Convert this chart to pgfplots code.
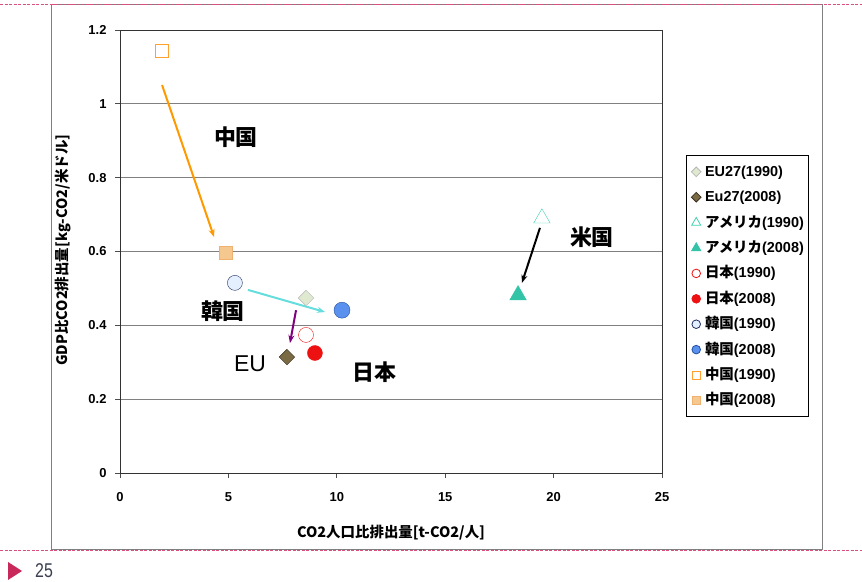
\documentclass[border=0pt]{standalone}
\usepackage{fontspec}
\setmainfont{Liberation Sans}
\newfontfamily\cjk{Noto Sans CJK JP}
\usepackage{pgfplots}
\pgfplotsset{compat=1.18}
\usetikzlibrary{arrows.meta}
\definecolor{dashpink}{HTML}{D85080}
\definecolor{frame}{HTML}{808080}
\definecolor{pagenum}{HTML}{3A4050}
\definecolor{tri}{HTML}{C8285A}
\definecolor{euA}{HTML}{DFE9D0}
\definecolor{euAd}{HTML}{B8B8B8}
\definecolor{euB}{HTML}{7B6B45}
\definecolor{euBd}{HTML}{3A3020}
\definecolor{usA}{HTML}{40D0B0}
\definecolor{usB}{HTML}{33C4A8}
\definecolor{jp}{HTML}{EE1111}
\definecolor{krA}{HTML}{E4F0FF}
\definecolor{krAd}{HTML}{203060}
\definecolor{krB}{HTML}{5A90EE}
\definecolor{krBd}{HTML}{2050A0}
\definecolor{cnA}{HTML}{FFA030}
\definecolor{cnB}{HTML}{F5C890}
\definecolor{cnBd}{HTML}{F0B070}
\definecolor{arrorange}{HTML}{FF9900}
\definecolor{arrcyan}{HTML}{66DDDD}
\definecolor{arrpurple}{HTML}{800080}
\begin{document}
\begin{tikzpicture}[x=1bp,y=1bp]
\useasboundingbox (0,0) rectangle (862,582);
\draw[frame, line width=1bp] (51,32) rectangle (822,577);
\draw[dashpink, line width=1bp, dash pattern=on 3bp off 1.5bp] (0,577) -- (862,577);
\draw[dashpink, line width=1bp, dash pattern=on 3bp off 1.5bp] (0,31) -- (862,31);
\fill[tri] (8,20) -- (8,2) -- (22,11) -- cycle;
\node[anchor=west, text=pagenum, font=\fontsize{20}{22}\selectfont, inner sep=0pt, xscale=0.8] at (35,11) {25};
\begin{axis}[
  at={(120bp,109bp)}, anchor=south west,
  scale only axis, width=542bp, height=443bp,
  xmin=0, xmax=25, ymin=0, ymax=1.2,
  xtick={0,5,10,15,20,25},
  ytick={0,0.2,0.4,0.6,0.8,1,1.2},
  yticklabels={0,0.2,0.4,0.6,0.8,1,1.2},
  ymajorgrids,
  grid style={black!50, line width=0.8bp},
  axis line style={black!80, line width=0.8bp},
  tick align=outside, major tick length=5bp,
  tick style={black!70, line width=0.8bp},
  xtick pos=left, ytick pos=left,
  /pgf/number format/assume math mode=true,
  ticklabel style={font=\bfseries\fontsize{13}{15}\selectfont},
  xticklabel style={yshift=-11bp},
  yticklabel style={xshift=-5bp},
  xlabel={\cjk\bfseries CO2人口比排出量[t-CO2/人]},
  ylabel={\cjk\bfseries GDP比CO2排出量[kg-CO2/米ドル]},
  label style={font=\cjk\bfseries\fontsize{14.5}{16}\selectfont},
  xlabel style={at={(axis description cs:0.5,-0.1354)}, anchor=center},
  ylabel style={at={(axis description cs:-0.1052,0.503)}, anchor=center},
  legend style={at={(1.0443,0.718)}, anchor=north west,
    draw=black, line width=0.8bp, inner xsep=5bp, inner ysep=9bp,
    font=\bfseries\fontsize{14.5}{16}\selectfont,
    row sep=11.4bp, column sep=4bp,
    nodes={inner sep=0pt, text height=12bp, text depth=2bp, anchor=base west}},
  legend cell align=left,
  legend image code/.code={\draw[#1, line width=0.8bp] plot coordinates {(5bp,4.5bp)};},
]
% legend images
\addlegendimage{only marks, mark=square*, mark options={rotate=45}, mark size=3.4bp, draw=euAd, fill=euA}
\addlegendentry{EU27(1990)}
\addlegendimage{only marks, mark=square*, mark options={rotate=45}, mark size=3.4bp, draw=euBd, fill=euB}
\addlegendentry{Eu27(2008)}
\addlegendimage{only marks, mark=triangle*, mark size=5.2bp, draw=usA, fill=white}
\addlegendentry{{\cjk アメリカ}(1990)}
\addlegendimage{only marks, mark=triangle*, mark size=5.2bp, draw=usB, fill=usB}
\addlegendentry{{\cjk アメリカ}(2008)}
\addlegendimage{only marks, mark=*, mark size=4.3bp, draw=jp, fill=white}
\addlegendentry{{\cjk 日本}(1990)}
\addlegendimage{only marks, mark=*, mark size=4.3bp, draw=jp, fill=jp}
\addlegendentry{{\cjk 日本}(2008)}
\addlegendimage{only marks, mark=*, mark size=4.3bp, draw=krAd, fill=krA}
\addlegendentry{{\cjk 韓国}(1990)}
\addlegendimage{only marks, mark=*, mark size=4.3bp, draw=krBd, fill=krB}
\addlegendentry{{\cjk 韓国}(2008)}
\addlegendimage{only marks, mark=square*, mark size=4bp, draw=cnA, fill=white}
\addlegendentry{{\cjk 中国}(1990)}
\addlegendimage{only marks, mark=square*, mark size=4bp, draw=cnBd, fill=cnB}
\addlegendentry{{\cjk 中国}(2008)}
% arrows
\addplot[arrorange, line width=2bp, -{Stealth[length=8bp,width=6bp]}, forget plot] coordinates {(1.94,1.051) (4.34,0.639)};
\addplot[arrcyan, line width=2bp, -{Stealth[length=8bp,width=6bp]}, forget plot] coordinates {(5.90,0.496) (9.46,0.436)};
\addplot[arrpurple, line width=2bp, -{Stealth[length=8bp,width=6bp]}, forget plot] coordinates {(8.12,0.441) (7.84,0.352)};
\addplot[black, line width=2bp, -{Stealth[length=8bp,width=6bp]}, forget plot] coordinates {(19.37,0.664) (18.54,0.515)};
% data points
\addplot[forget plot, only marks, mark=square*, mark options={rotate=45}, mark size=5.5bp, draw=euAd, fill=euA] coordinates {(8.58,0.474)};
\addplot[forget plot, only marks, mark=square*, mark options={rotate=45}, mark size=5.5bp, draw=euBd, fill=euB] coordinates {(7.70,0.314)};
\addplot[forget plot, only marks, mark=triangle*, mark size=9.5bp, draw=usA, fill=white] coordinates {(19.46,0.690)};
\addplot[forget plot, only marks, mark=triangle*, mark size=9.5bp, draw=usB, fill=usB] coordinates {(18.36,0.482)};
\addplot[forget plot, only marks, mark=*, mark size=7.5bp, draw=jp, fill=white] coordinates {(8.58,0.374)};
\addplot[forget plot, only marks, mark=*, mark size=7.5bp, draw=jp, fill=jp] coordinates {(8.99,0.325)};
\addplot[forget plot, only marks, mark=*, mark size=7.5bp, draw=krAd, fill=krA] coordinates {(5.30,0.515)};
\addplot[forget plot, only marks, mark=*, mark size=8bp, draw=krBd, fill=krB] coordinates {(10.24,0.441)};
\addplot[forget plot, only marks, mark=square*, mark size=6.5bp, draw=cnA, fill=white] coordinates {(1.94,1.143)};
\addplot[forget plot, only marks, mark=square*, mark size=6.5bp, draw=cnBd, fill=cnB] coordinates {(4.89,0.596)};
\node[font=\cjk\bfseries\fontsize{22}{24}\selectfont] at (axis cs:5.35,0.910) {中国};
\node[font=\cjk\bfseries\fontsize{22}{24}\selectfont] at (axis cs:4.75,0.439) {韓国};
\node[font=\fontsize{23}{25}\selectfont] at (axis cs:6.0,0.295) {EU};
\node[font=\cjk\bfseries\fontsize{22}{24}\selectfont] at (axis cs:11.72,0.274) {日本};
\node[font=\cjk\bfseries\fontsize{22}{24}\selectfont] at (axis cs:21.77,0.639) {米国};
\end{axis}
\end{tikzpicture}
\end{document}
